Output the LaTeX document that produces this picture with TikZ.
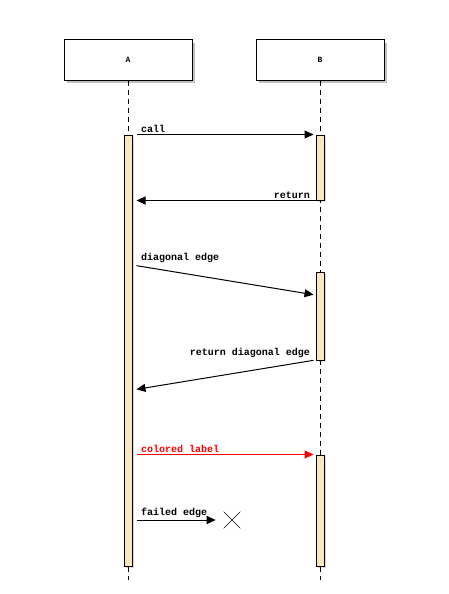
\documentclass[tikz,border=0pt]{standalone}
\usepackage{fontspec}
\setmonofont{Liberation Mono}
\usetikzlibrary{arrows.meta,shadows,positioning,shapes.misc}

\definecolor{barfill}{RGB}{253,229,190}
\definecolor{msgred}{RGB}{255,0,0}

\begin{document}
\begin{tikzpicture}[x=1pt,y=-1pt,line width=1pt,
  actor/.style={draw,fill=white,minimum width=128pt,minimum height=40pt,inner sep=0pt,
    font=\ttfamily\bfseries\fontsize{8}{9}\selectfont,
    drop shadow={shadow xshift=3pt,shadow yshift=-3pt,opacity=0.5}},
  lifeline/.style={dash pattern=on 5pt off 4pt},
  bar/.style={draw,fill=barfill,minimum width=8pt,inner sep=0pt,
    drop shadow={shadow xshift=2pt,shadow yshift=-2pt,opacity=0.3}},
  msg/.style={-{Triangle[length=9pt,width=8pt]},shorten <=4pt,shorten >=2pt},
  lbl/.style={font=\ttfamily\bfseries\fontsize{10}{11}\selectfont,inner sep=0pt}]
\useasboundingbox (0,0) rectangle (448,594);

% participants
\node[actor] (A) at (128,60) {A};
\node[actor] (B) at (320,60) {B};
\coordinate (endA) at (128,580);
\coordinate (endB) at (320,580);
\draw[lifeline] (A.south) -- (endA);
\draw[lifeline] (B.south) -- (endB);

% activations
\node[bar,minimum height=431pt] (barA) at (128,350.5) {};
\node[bar,minimum height=65pt] (barB1) at (320,167.5) {};
\node[bar,minimum height=88pt] (barB2) at (320,316) {};
\node[bar,minimum height=111pt] (barB3) at (320,510.5) {};

% message levels
\coordinate (d1) at (0,265);
\coordinate (d2) at (0,295);
\coordinate (r1) at (0,360);
\coordinate (r2) at (0,390);
\coordinate (f1) at (0,520);

\draw[msg] (barA.east |- barB1.north) -- (barB1.north west);
\node[lbl,above right=1.5pt and 8pt of {barA.east |- barB1.north}] (callLbl) {call};

\draw[msg,shorten <=0pt,shorten >=4pt] (barB1.south west) -- (barA.east |- barB1.south);
\node[lbl,above left=1.5pt and 5pt of barB1.south west] (retLbl) {return};

\draw[msg] (barA.east |- d1) -- (barB2.west |- d2);
\node[lbl,above right=1.5pt and 8pt of {barA.east |- d1}] (diagLbl) {diagonal edge};

\draw[msg,shorten <=2pt,shorten >=4pt] (barB2.west |- r1) -- (barA.east |- r2);
\node[lbl,above left=1.5pt and 5pt of {barB2.west |- r1}] (rdiagLbl) {return diagonal edge};

\draw[msg,msgred] (barA.east |- barB3.north) -- (barB3.north west);
\node[lbl,msgred,above right=1.5pt and 8pt of {barA.east |- barB3.north}] (colLbl) {colored label};

\node[cross out,draw,line width=0.6pt,minimum size=16pt,inner sep=0pt] (fail) at (232,520) {};
\draw[msg,shorten >=8pt] (barA.east |- f1) -- (fail.west);
\node[lbl,above right=1.5pt and 8pt of {barA.east |- f1}] (failLbl) {failed edge};
\end{tikzpicture}
\end{document}
